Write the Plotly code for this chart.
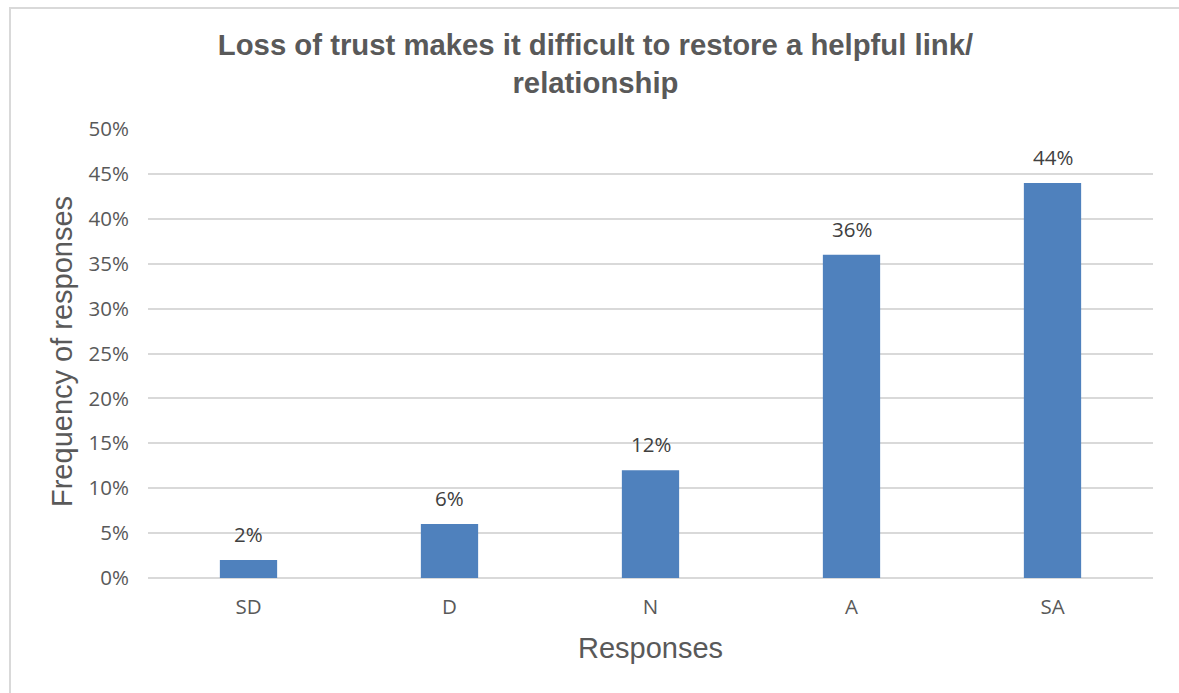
import plotly.graph_objects as go

categories = ["SD", "D", "N", "A", "SA"]
values = [2, 6, 12, 36, 44]
y_ticks = [0, 5, 10, 15, 20, 25, 30, 35, 40, 45, 50]
y_tick_labels = [f"{v}%" for v in y_ticks]

title_text = "Loss of trust makes it difficult to restore a helpful link/<br>relationship"

W, H = 1179, 693
L, R, T, B = 148, 26, 129, 115
pw, ph = W - L - R, H - T - B


def fx(px):
    return (px - L) / pw


def fy(py):
    return 1 - (py - T) / ph


fig = go.Figure()
fig.add_trace(go.Bar(
    x=categories, y=values,
    marker=dict(color="#4F81BD", line=dict(width=0)),
    hoverinfo="x+y",
))

annotations = []
for c, v in zip(categories, values):
    annotations.append(dict(
        x=c, y=v, xref="x", yref="y", text=f"{v}%", showarrow=False,
        yanchor="bottom", yshift=10,
        font=dict(family="Open Sans", size=20.5, color="#404040"),
    ))

annotations.append(dict(
    x=fx(650), y=fy(648), xref="paper", yref="paper",
    text="Responses", showarrow=False,
    font=dict(family="Liberation Sans, Arial", size=29, color="#595959"),
    xanchor="center", yanchor="middle",
))
annotations.append(dict(
    x=fx(62), y=fy(352), xref="paper", yref="paper",
    text="Frequency of responses", showarrow=False, textangle=-90,
    font=dict(family="Liberation Sans, Arial", size=29, color="#595959"),
    xanchor="center", yanchor="middle",
))

shapes = [dict(
    type="rect", xref="paper", yref="paper",
    x0=fx(10), x1=fx(1190), y0=fy(700), y1=fy(8),
    line=dict(color="#D9D9D9", width=2), fillcolor="rgba(0,0,0,0)", layer="below",
)]

fig.update_layout(
    width=W, height=H,
    margin=dict(l=L, r=R, t=T, b=B),
    paper_bgcolor="white", plot_bgcolor="white",
    bargap=0.715,
    showlegend=False,
    title=dict(
        text=title_text, x=595.5 / W, xanchor="center",
        y=1 - 55 / H, yanchor="top", xref="container", yref="container",
        font=dict(family="Liberation Sans, Arial", size=29.3, color="#595959", weight="bold"),
    ),
    annotations=annotations,
    shapes=shapes,
)
fig.update_xaxes(
    showgrid=False, showline=False, zeroline=False, ticks="",
    tickfont=dict(family="Open Sans", size=20.5, color="#595959"),
    ticklabelstandoff=14,
)
fig.update_yaxes(
    range=[0, 50], tickvals=y_ticks, ticktext=y_tick_labels,
    showgrid=True, gridcolor="#D9D9D9", gridwidth=2,
    zeroline=True, zerolinecolor="#D9D9D9", zerolinewidth=2,
    showline=False, ticks="",
    tickfont=dict(family="Open Sans", size=20.5, color="#595959"),
    ticklabelstandoff=18,
)

fig.write_html("out.html")
